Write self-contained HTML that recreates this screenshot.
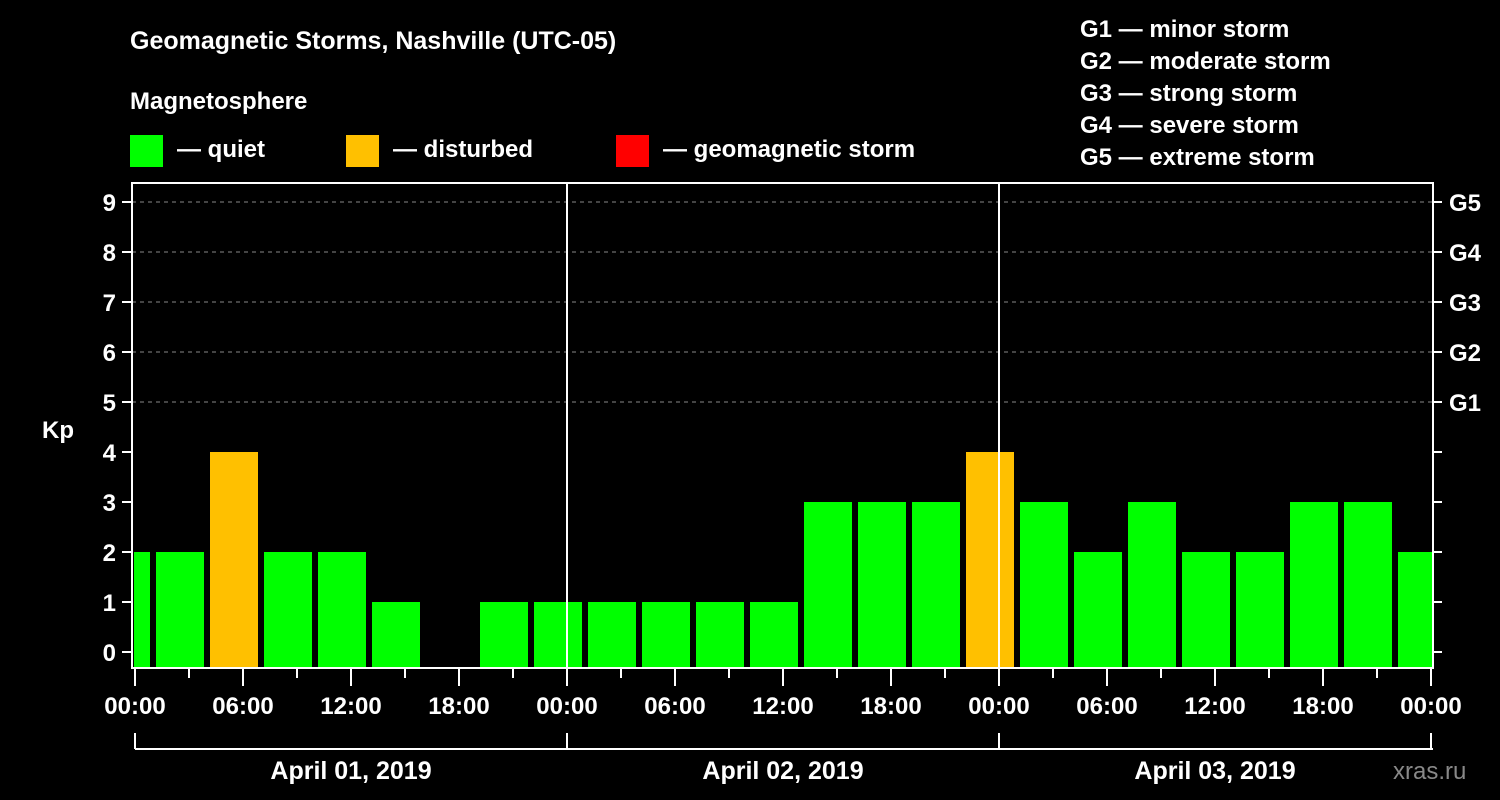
<!DOCTYPE html>
<html><head><meta charset="utf-8"><style>
html,body{margin:0;padding:0;background:#000;}
svg{display:block;font-family:"Liberation Sans",sans-serif;font-weight:bold;}
</style></head><body>
<svg id="c" width="1500" height="800" viewBox="0 0 1500 800">
<text x="130" y="49" fill="#fff" font-size="25">Geomagnetic Storms, Nashville (UTC-05)</text>
<text x="130" y="109" fill="#fff" font-size="24">Magnetosphere</text>
<g><rect x="130" y="135" width="33" height="32" fill="#00ff00"/><text x="177" y="157" fill="#fff" font-size="24">— quiet</text></g>
<g><rect x="346" y="135" width="33" height="32" fill="#ffc000"/><text x="393" y="157" fill="#fff" font-size="24">— disturbed</text></g>
<g><rect x="616" y="135" width="33" height="32" fill="#ff0000"/><text x="663" y="157" fill="#fff" font-size="24">— geomagnetic storm</text></g>
<g fill="#fff" font-size="24">
<text x="1080" y="37">G1 — minor storm</text>
<text x="1080" y="69">G2 — moderate storm</text>
<text x="1080" y="101">G3 — strong storm</text>
<text x="1080" y="133">G4 — severe storm</text>
<text x="1080" y="165">G5 — extreme storm</text>
</g>
<text x="42" y="438" fill="#fff" font-size="24">Kp</text>
<text x="1393" y="779" fill="#888" font-size="24" font-weight="normal">xras.ru</text>
<g id="plot"></g>
</svg>
<script>
const kpValues=[2,2,4,2,2,1,0,1,1,1,1,1,1,3,3,3,4,3,2,3,2,2,3,3,2];
const startHour=-2;
const dayLabels=["April 01, 2019","April 02, 2019","April 03, 2019"];
const hourLabels=["00:00","06:00","12:00","18:00"];
const gLabels=["G1","G2","G3","G4","G5"];
const NS="http://www.w3.org/2000/svg";
const L=132,R=1433,T=183,B=668;
const x=h=>135+h*18;
const y=v=>652-v*50;
const g=document.getElementById('plot');
function mk(t,a){const e=document.createElementNS(NS,t);for(const k in a)e.setAttribute(k,a[k]);g.appendChild(e);return e;}
// clip
const defs=mk('defs',{});const cp=document.createElementNS(NS,'clipPath');cp.setAttribute('id','pc');const cr=document.createElementNS(NS,'rect');cr.setAttribute('x',L+2);cr.setAttribute('y',T);cr.setAttribute('width',R-L-3);cr.setAttribute('height',B-T);cp.appendChild(cr);defs.appendChild(cp);
// grid
for(let v=5;v<=9;v++){const e=mk('line',{x1:L,x2:R,y1:y(v),y2:y(v),stroke:'#888','stroke-dasharray':'4,4','stroke-width':1});

}
// bars
const bg=mk('g',{'clip-path':'url(#pc)'});
kpValues.forEach((v,i)=>{if(v<=0)return;const h0=startHour+i*3;const r=document.createElementNS(NS,'rect');
const col=v>=5?'#ff0000':(v>=4?'#ffc000':'#00ff00');
r.setAttribute('x',x(h0)+3);r.setAttribute('width',48);r.setAttribute('y',y(v));r.setAttribute('height',B-y(v));r.setAttribute('fill',col);


bg.appendChild(r);});
// day separators
[1,2].forEach(d=>{const e=mk('line',{x1:x(d*24),x2:x(d*24),y1:T,y2:B,stroke:'#fff','stroke-width':2});

});
// frame
const f=mk('rect',{x:L,y:T,width:R-L,height:B-T,fill:'none',stroke:'#fff','stroke-width':2});


// y ticks
for(let v=0;v<=9;v++){mk('line',{x1:122,x2:L,y1:y(v),y2:y(v),stroke:'#fff','stroke-width':2});
mk('line',{x1:R,x2:1442,y1:y(v),y2:y(v),stroke:'#fff','stroke-width':2});
const t=mk('text',{x:116,y:y(v)+9,fill:'#fff','font-size':24,'text-anchor':'end'});t.textContent=v;


if(v>=5){const gl=mk('text',{x:1449,y:y(v)+9,fill:'#fff','font-size':24});gl.textContent=gLabels[v-5];

}}
// x ticks
for(let h=0;h<=72;h+=3){const long=h%6===0;mk('line',{x1:x(h),x2:x(h),y1:B,y2:long?686:678,stroke:'#fff','stroke-width':2});
if(h%6===0){}}
for(let h=0;h<=72;h+=6){const t=mk('text',{x:x(h),y:714,fill:'#fff','font-size':24,'text-anchor':'middle'});t.textContent=hourLabels[(h/6)%4];

}
// date bracket
mk('line',{x1:x(0),x2:R,y1:749,y2:749,stroke:'#fff','stroke-width':2});
[0,24,48].forEach(h=>mk('line',{x1:x(h),x2:x(h),y1:733,y2:749,stroke:'#fff','stroke-width':2}));
mk('line',{x1:R-2,x2:R-2,y1:733,y2:749,stroke:'#fff','stroke-width':2});
dayLabels.forEach((d,i)=>{const t=mk('text',{x:x(i*24+12),y:779,fill:'#fff','font-size':25,'text-anchor':'middle'});t.textContent=d;

});
</script>
</body></html>
